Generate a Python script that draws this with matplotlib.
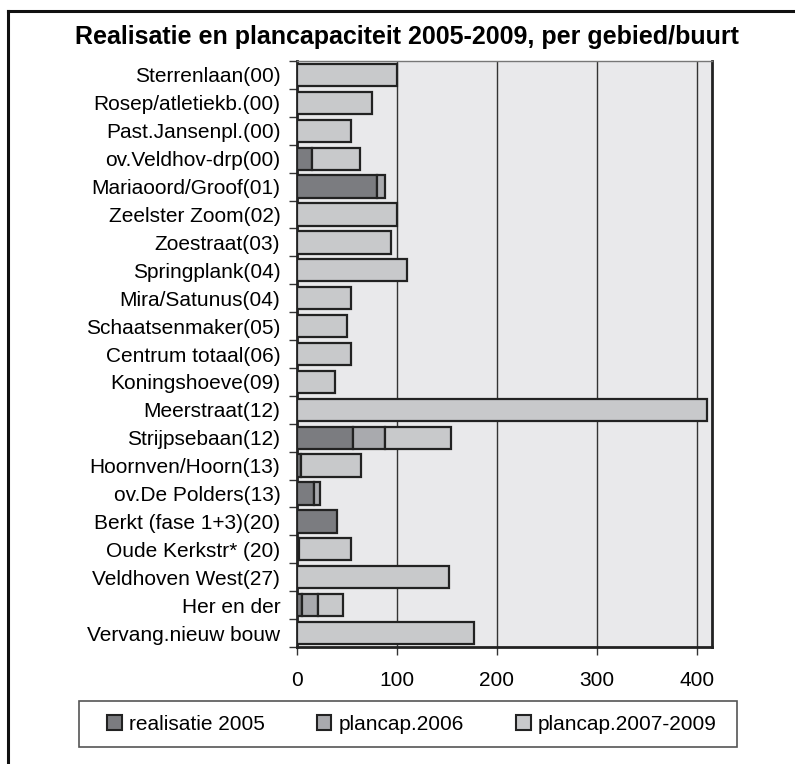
import matplotlib
matplotlib.use("Agg")
import matplotlib.pyplot as plt
from matplotlib.lines import Line2D
from matplotlib.patches import Patch, Rectangle
import numpy as np

plt.rcParams['font.family'] = ['Liberation Sans', 'DejaVu Sans']

categories = [
    "Sterrenlaan(00)", "Rosep/atletiekb.(00)", "Past.Jansenpl.(00)", "ov.Veldhov-drp(00)",
    "Mariaoord/Groof(01)", "Zeelster Zoom(02)", "Zoestraat(03)", "Springplank(04)",
    "Mira/Satunus(04)", "Schaatsenmaker(05)", "Centrum totaal(06)", "Koningshoeve(09)",
    "Meerstraat(12)", "Strijpsebaan(12)", "Hoornven/Hoorn(13)", "ov.De Polders(13)",
    "Berkt (fase 1+3)(20)", "Oude Kerkstr* (20)", "Veldhoven West(27)", "Her en der",
    "Vervang.nieuw bouw",
]
realisatie_2005 = [0, 0, 0, 15, 80, 0, 0, 0, 0, 0, 0, 0, 0, 56, 4, 17, 40, 2, 0, 5, 0]
plancap_2006 = [0, 0, 0, 0, 8, 0, 0, 0, 0, 0, 0, 0, 0, 32, 0, 6, 0, 0, 0, 16, 0]
plancap_2007_2009 = [100, 75, 54, 48, 0, 100, 94, 110, 54, 50, 54, 38, 410, 66, 60, 0, 0, 52, 152, 25, 177]
series_names = ["realisatie 2005", "plancap.2006", "plancap.2007-2009"]
x_ticks = [0, 100, 200, 300, 400]

colors = ["#7b7c80", "#a9aaae", "#c8c9cb"]
edge = "#222222"

W, H = 795, 764
fig = plt.figure(figsize=(W / 100, H / 100), dpi=100)
ax = fig.add_axes([297 / W, 1 - 647 / H, (712 - 297) / W, (647 - 61) / H])
ax.set_facecolor("#e9e9eb")

y = np.arange(len(categories))
left = np.zeros(len(categories))
for vals, col in zip([realisatie_2005, plancap_2006, plancap_2007_2009], colors):
    v = np.array(vals, dtype=float)
    mask = v > 0
    ax.barh(y[mask], v[mask], left=left[mask], height=0.8, color=col,
            edgecolor=edge, linewidth=1.6, zorder=3)
    left += v

ax.set_ylim(len(categories) - 0.5, -0.5)
ax.set_xlim(0, 415)
ax.set_xticks(x_ticks)
ax.set_xticklabels([str(t) for t in x_ticks], fontsize=15)
ax.set_yticks(y)
ax.set_yticklabels(categories, fontsize=15)
ax.tick_params(axis='y', length=0, pad=12)
ax.tick_params(axis='x', length=6, width=1, color="#333333", pad=11, direction='out')

# tick marks between categories on the value axis side
ax.set_yticks(np.arange(-0.5, len(categories) + 0.5, 1), minor=True)
ax.tick_params(axis='y', which='minor', length=6, width=1, color="#333333", direction='out')

for t in x_ticks[1:]:
    ax.axvline(t, color="#333333", linewidth=1.0, zorder=1)

for s in ["left", "bottom", "right"]:
    ax.spines[s].set_color("#222222")
    ax.spines[s].set_linewidth(2.0)
ax.spines["top"].set_color("#777777")
ax.spines["top"].set_linewidth(1.0)

fig.text(407 / W, 1 - 37 / H, "Realisatie en plancapaciteit 2005-2009, per gebied/buurt",
         ha="center", va="center", fontsize=18, fontweight="bold")

# outer frame lines (left and top)
fig.add_artist(Line2D([8 / W, 8 / W], [0, 1 - 11 / H], transform=fig.transFigure,
                      color="#111111", linewidth=2.2))
fig.add_artist(Line2D([8 / W, 1], [1 - 11 / H, 1 - 11 / H], transform=fig.transFigure,
                      color="#111111", linewidth=2.2))

# legend box
fig.add_artist(Rectangle((79 / W, 1 - 747 / H), (737 - 79) / W, (747 - 701) / H,
                         transform=fig.transFigure, facecolor="white",
                         edgecolor="#555555", linewidth=1.2))
handles = [Patch(facecolor=c, edgecolor=edge, linewidth=1.5) for c in colors]
leg = fig.legend(handles, series_names, loc="center",
                 bbox_to_anchor=(412 / W, 1 - 724 / H), ncol=3, fontsize=15,
                 frameon=False,
                 handlelength=0.7, handleheight=0.7, handletextpad=0.35,
                 columnspacing=2.5, borderpad=0, borderaxespad=0)

fig.savefig("out.png", dpi=100, facecolor="white")
